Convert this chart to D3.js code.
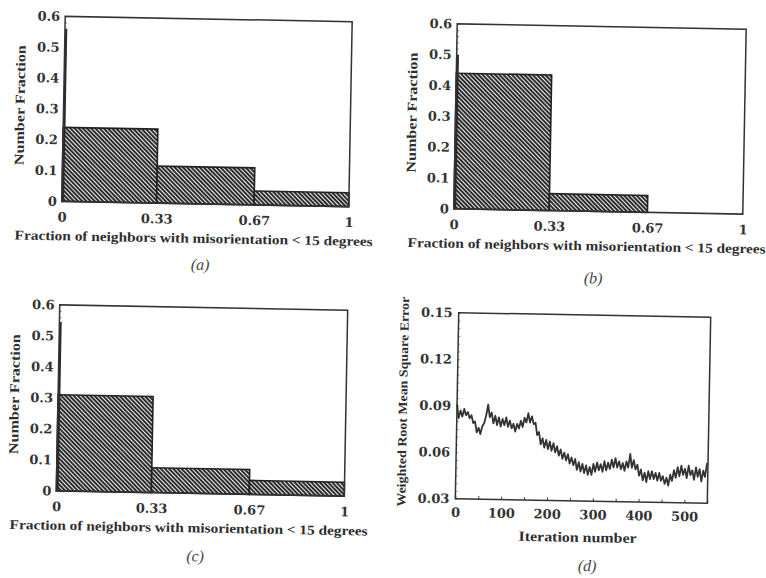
<!DOCTYPE html>
<html>
<head>
<meta charset="utf-8">
<script src="https://cdn.jsdelivr.net/npm/d3@7"></script>
<style>
  body { margin: 0; background: #ffffff; }
  .tick text { font-family: "DejaVu Serif", serif; font-weight: bold; }
  .axisText { font-family: "Liberation Serif", serif; font-weight: bold; fill: #2e2e2e; }
  .caption { font-family: "Liberation Serif", serif; font-style: italic; fill: #444; }
</style>
</head>
<body>
<div id="figure"></div>
<script>

// Data
// ==========================================
var binEdges = [0, 0.33, 0.67, 1];
var xTickLabels = ["0", "0.33", "0.67", "1"];
var yTicksHist = [0, 0.1, 0.2, 0.3, 0.4, 0.5, 0.6];

// narrow spike at exactly 0, then the three bins
var spikeA = 0.56;
var barsA = [0.24, 0.12, 0.045];
var spikeB = 0.50;
var barsB = [0.44, 0.055, 0];
var spikeC = 0.545;
var barsC = [0.31, 0.08, 0.045];

// panel (d): weighted RMS error, read every 4 iterations
var iterStep = 4;
var rmse = [
  0.091, 0.082, 0.087, 0.083, 0.088, 0.084, 0.086, 0.082, 0.084, 0.079,
  0.080, 0.073, 0.076, 0.072, 0.077, 0.079, 0.084, 0.091, 0.083, 0.086,
  0.079, 0.084, 0.078, 0.083, 0.077, 0.082, 0.078, 0.083, 0.077, 0.081,
  0.076, 0.079, 0.074, 0.079, 0.076, 0.081, 0.077, 0.083, 0.080, 0.086,
  0.080, 0.084, 0.079, 0.080, 0.072, 0.074, 0.066, 0.070, 0.064, 0.069,
  0.063, 0.068, 0.062, 0.067, 0.061, 0.065, 0.059, 0.063, 0.057, 0.061,
  0.056, 0.060, 0.054, 0.058, 0.053, 0.057, 0.050, 0.055, 0.049, 0.054,
  0.048, 0.053, 0.047, 0.052, 0.047, 0.054, 0.049, 0.055, 0.050, 0.054,
  0.049, 0.056, 0.050, 0.055, 0.051, 0.057, 0.052, 0.058, 0.052, 0.056,
  0.051, 0.055, 0.050, 0.056, 0.052, 0.061, 0.052, 0.057, 0.051, 0.054,
  0.047, 0.051, 0.044, 0.049, 0.043, 0.050, 0.045, 0.050, 0.045, 0.049,
  0.044, 0.049, 0.044, 0.047, 0.042, 0.046, 0.041, 0.048, 0.044, 0.051,
  0.046, 0.053, 0.047, 0.054, 0.048, 0.052, 0.046, 0.054, 0.048, 0.051,
  0.045, 0.053, 0.047, 0.052, 0.044, 0.051, 0.047, 0.056
];
var iterTicks = [0, 100, 200, 300, 400, 500];
var rmseTicks = [0.03, 0.06, 0.09, 0.12, 0.15];

var xTitleHist = "Fraction of neighbors with misorientation < 15 degrees";

// Set up the figure
// ==========================================
var svgWidth = 766;
var svgHeight = 578;
var tilt = 1.05; // the scan is slightly rotated

var svg = d3.select("#figure")
  .append("svg")
  .attr("width", svgWidth)
  .attr("height", svgHeight)
  .style("font-family", "DejaVu Serif");

svg.append("rect")
  .attr("width", svgWidth)
  .attr("height", svgHeight)
  .attr("fill", "#ffffff");

// hatch pattern for the bars
var defs = svg.append("defs");
var hatch = defs.append("pattern")
  .attr("id", "hatch")
  .attr("patternUnits", "userSpaceOnUse")
  .attr("width", 3)
  .attr("height", 3)
  .attr("patternTransform", "rotate(-45)");
hatch.append("rect")
  .attr("width", 3)
  .attr("height", 3)
  .attr("fill", "#ececec");
hatch.append("line")
  .attr("x1", 1).attr("y1", 0)
  .attr("x2", 1).attr("y2", 3)
  .attr("stroke", "#232323")
  .attr("stroke-width", 1.9);

// rotated group for one panel, origin at the frame's top-left corner
function panelGroup(frame) {
  var cx = frame.x + frame.w / 2;
  var cy = frame.y + frame.h / 2;
  return svg.append("g")
    .attr("transform", `rotate(${tilt}, ${cx}, ${cy}) translate(${frame.x}, ${frame.y})`);
}

function drawHistogram(frame, spike, bars, caption, captionDy) {
  var g = panelGroup(frame);

  var xScale = d3.scaleLinear().domain([0, 1]).range([0, frame.w]);
  var yScale = d3.scaleLinear().domain([0, 0.6]).range([frame.h, 0]);

  // minor ticks along the left edge
  g.append("g")
    .call(d3.axisRight(yScale).tickValues(d3.range(0, 0.6001, 0.02)).tickSize(2).tickFormat(""))
    .call(a => a.select(".domain").remove())
    .selectAll("line").attr("stroke", "#666").attr("stroke-width", 0.8);

  // bars
  var binData = bars.map(function(v, i) {
    return { x0: binEdges[i], x1: binEdges[i + 1], v: v };
  }).filter(d => d.v > 0);

  g.selectAll("rect.bar")
    .data(binData)
    .enter()
    .append("rect")
    .attr("class", "bar")
    .attr("x", d => xScale(d.x0))
    .attr("y", d => yScale(d.v))
    .attr("width", d => xScale(d.x1) - xScale(d.x0))
    .attr("height", d => yScale(0) - yScale(d.v))
    .attr("fill", "url(#hatch)")
    .attr("stroke", "#222")
    .attr("stroke-width", 1.6);

  // spike at 0
  g.append("rect")
    .attr("x", xScale(0))
    .attr("y", yScale(spike))
    .attr("width", xScale(0.008) - xScale(0))
    .attr("height", yScale(0) - yScale(spike))
    .attr("fill", "#2a2a2a");

  // frame
  g.append("rect")
    .attr("width", frame.w)
    .attr("height", frame.h)
    .attr("fill", "none")
    .attr("stroke", "#333")
    .attr("stroke-width", 1.5);

  // axes labels
  var bottomAxis = d3.axisBottom(xScale)
    .tickValues(binEdges)
    .tickFormat((d, i) => xTickLabels[i])
    .tickSize(0)
    .tickPadding(11);
  g.append("g")
    .attr("transform", `translate(0, ${frame.h})`)
    .call(bottomAxis)
    .call(a => a.select(".domain").remove())
    .selectAll("text").attr("font-size", 13).attr("fill", "#333");

  var leftAxis = d3.axisLeft(yScale)
    .tickValues(yTicksHist)
    .tickFormat(d3.format(".1~f"))
    .tickSize(0)
    .tickPadding(5);
  g.append("g")
    .call(leftAxis)
    .call(a => a.select(".domain").remove())
    .selectAll("text").attr("font-size", 13).attr("fill", "#333");

  // Text for x-axis
  g.append("text")
    .attr("class", "axisText")
    .attr("x", frame.w / 2 - 11)
    .attr("y", frame.h + 39)
    .attr("font-size", 13.5)
    .attr("text-anchor", "middle")
    .attr("textLength", 358)
    .attr("lengthAdjust", "spacingAndGlyphs")
    .text(xTitleHist);

  // Text for y-axis
  g.append("text")
    .attr("class", "axisText")
    .attr("transform", `translate(-39, ${frame.h / 2 - 3}) rotate(-90)`)
    .attr("font-size", 13.5)
    .attr("text-anchor", "middle")
    .attr("textLength", 120)
    .attr("lengthAdjust", "spacingAndGlyphs")
    .text("Number Fraction");

  // caption
  g.append("text")
    .attr("class", "caption")
    .attr("x", frame.w / 2 - 4)
    .attr("y", frame.h + captionDy)
    .attr("font-size", 16)
    .attr("text-anchor", "middle")
    .text(caption);
}

drawHistogram({ x: 63.5, y: 19, w: 287, h: 185 }, spikeA, barsA, "(a)", 66);
drawHistogram({ x: 455.5, y: 26.5, w: 289, h: 185 }, spikeB, barsB, "(b)", 72);
drawHistogram({ x: 58, y: 307.5, w: 288, h: 186 }, spikeC, barsC, "(c)", 68);

// Panel (d): error against iteration
// ==========================================
(function() {
  var frame = { x: 457, y: 315, w: 252, h: 186 };
  var g = panelGroup(frame);

  var xScale = d3.scaleLinear().domain([0, 550]).range([0, frame.w]);
  var yScale = d3.scaleLinear().domain([0.03, 0.15]).range([frame.h, 0]);

  // small inner ticks
  g.append("g")
    .attr("transform", `translate(0, ${frame.h})`)
    .call(d3.axisTop(xScale).tickValues(d3.range(0, 551, 50)).tickSize(3).tickFormat(""))
    .call(a => a.select(".domain").remove())
    .selectAll("line").attr("stroke", "#444").attr("stroke-width", 1);
  g.append("g")
    .call(d3.axisRight(yScale).tickValues(d3.range(0.03, 0.1501, 0.005)).tickSize(2).tickFormat(""))
    .call(a => a.select(".domain").remove())
    .selectAll("line").attr("stroke", "#777").attr("stroke-width", 0.8);

  var line = d3.line()
    .x((d, i) => xScale(i * iterStep))
    .y(d => yScale(d));

  g.append("path")
    .datum(rmse)
    .attr("d", line)
    .attr("fill", "none")
    .attr("stroke", "#333")
    .attr("stroke-width", 1.8)
    .attr("stroke-linejoin", "round");

  g.append("rect")
    .attr("width", frame.w)
    .attr("height", frame.h)
    .attr("fill", "none")
    .attr("stroke", "#333")
    .attr("stroke-width", 1.5);

  g.append("g")
    .attr("transform", `translate(0, ${frame.h})`)
    .call(d3.axisBottom(xScale).tickValues(iterTicks).tickSize(0).tickPadding(9))
    .call(a => a.select(".domain").remove())
    .selectAll("text").attr("font-size", 13).attr("fill", "#333");

  g.append("g")
    .call(d3.axisLeft(yScale).tickValues(rmseTicks).tickFormat(d3.format(".2f")).tickSize(0).tickPadding(6))
    .call(a => a.select(".domain").remove())
    .selectAll("text").attr("font-size", 13).attr("fill", "#333");

  g.append("text")
    .attr("class", "axisText")
    .attr("x", frame.w / 2 - 3)
    .attr("y", frame.h + 41)
    .attr("font-size", 14)
    .attr("text-anchor", "middle")
    .attr("textLength", 118)
    .attr("lengthAdjust", "spacingAndGlyphs")
    .text("Iteration number");

  g.append("text")
    .attr("class", "axisText")
    .attr("transform", `translate(-50, ${frame.h / 2 - 3}) rotate(-90)`)
    .attr("font-size", 12.5)
    .attr("text-anchor", "middle")
    .attr("textLength", 210)
    .attr("lengthAdjust", "spacingAndGlyphs")
    .text("Weighted Root Mean Square Error");

  g.append("text")
    .attr("class", "caption")
    .attr("x", frame.w / 2 + 7)
    .attr("y", frame.h + 70)
    .attr("font-size", 16)
    .attr("text-anchor", "middle")
    .text("(d)");
})();

</script>
</body>
</html>
